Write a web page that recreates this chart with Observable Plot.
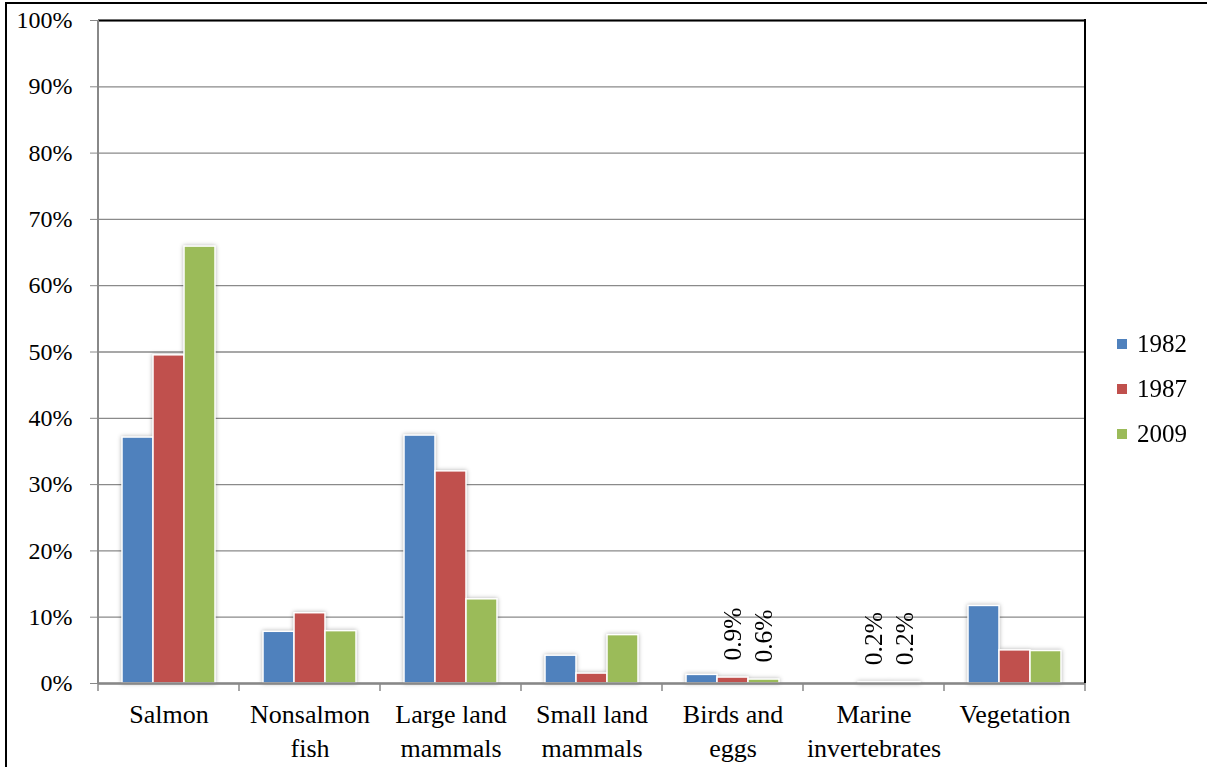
<!DOCTYPE html>
<html><head><meta charset="utf-8">
<script src="https://cdn.jsdelivr.net/npm/d3@7"></script>
<script src="https://cdn.jsdelivr.net/npm/@observablehq/plot@0.6"></script>
<style>
body{margin:0;background:#fff;}
#wrap{position:relative;width:1207px;height:767px;overflow:hidden;font-family:"Liberation Serif","Times New Roman",serif;}
#border{position:absolute;left:5px;top:2px;right:-10px;bottom:-10px;border-left:2px solid #000;border-top:2px solid #000;pointer-events:none;}
#chart{position:absolute;left:0;top:0;}
#legend{position:absolute;left:1117px;top:321px;}
.item{display:flex;align-items:center;height:45px;font-size:25px;color:#000;}
.sw{width:10px;height:10px;margin-right:10px;}
</style></head><body><div id="wrap"><div id="chart"></div><div id="border"></div><div id="legend"></div></div>
<script>
const categories = ["Salmon", "Nonsalmon fish", "Large land mammals", "Small land mammals", "Birds and eggs", "Marine invertebrates", "Vegetation"];
const categoryLabels = ["Salmon", "Nonsalmon\nfish", "Large land\nmammals", "Small land\nmammals", "Birds and\neggs", "Marine\ninvertebrates", "Vegetation"];
const years = ["1982", "1987", "2009"];
const share1982 = [37.1, 7.8, 37.4, 4.2, 1.3, 0, 11.7];
const share1987 = [49.5, 10.6, 32.0, 1.5, 0.9, 0.2, 5.0];
const share2009 = [65.9, 7.9, 12.7, 7.3, 0.6, 0.2, 4.9];
const colors = ["#4F81BD", "#C0504D", "#9BBB59"];
const yTicks = [0, 10, 20, 30, 40, 50, 60, 70, 80, 90, 100];
const dataLabels = [
  {category: "Birds and eggs", year: "1987", value: 0.9},
  {category: "Birds and eggs", year: "2009", value: 0.6},
  {category: "Marine invertebrates", year: "1987", value: 0.2},
  {category: "Marine invertebrates", year: "2009", value: 0.2}
];

const series = [share1982, share1987, share2009];
const rows = categories.flatMap((c, i) => years.map((yr, j) => ({category: c, year: yr, value: series[j][i]})));

const plot = Plot.plot({
  width: 1207, height: 767,
  marginLeft: 96, marginRight: 120, marginTop: 20, marginBottom: 84,
  style: {fontFamily: "'Liberation Serif', 'Times New Roman', serif", background: "transparent", color: "black", overflow: "visible"},
  fx: {domain: categories, padding: 0, label: null},
  x: {domain: years, paddingInner: 0, paddingOuter: 0.77, axis: null},
  y: {domain: [0, 100], label: null},
  color: {domain: years, range: colors},
  marks: [
    Plot.gridY(yTicks, {stroke: "#8a8a8a", strokeOpacity: 1, strokeWidth: 1.3}),
    Plot.barY(rows, {fx: "category", x: "year", y: "value", fill: "year", stroke: "white", strokeWidth: 1.5}),
    Plot.ruleY([0], {stroke: "#888", strokeWidth: 2.5}),
    Plot.ruleY([100], {stroke: "black", strokeWidth: 2}),
    Plot.text(dataLabels, {fx: "category", x: "year", y: "value", text: d => d.value.toFixed(1) + "%", rotate: -90, textAnchor: "start", dy: -17, fontSize: 25.5, fill: "black"}),
    Plot.axisY(yTicks, {label: null, tickSize: 8, tickPadding: 18, tickFormat: d => d + "%", fontSize: 24, stroke: "#888", fill: "black"}),
    Plot.axisFx({anchor: "bottom", label: null, tickSize: 0, tickPadding: 15, fontSize: 26, lineHeight: 1.32, tickFormat: d => categoryLabels[categories.indexOf(d)], fill: "black"})
  ]
});
document.getElementById("chart").appendChild(plot);

// axis decorations derived from the plot's own scales
const svg = d3.select(plot);
const fx = plot.scale("fx"), y = plot.scale("y");
const y0 = y.apply(0), y1 = y.apply(100);
const bw = fx.bandwidth != null ? fx.bandwidth : (fx.range[1] - fx.range[0]) / categories.length;
const xs = categories.map(c => fx.apply(c)).concat([fx.apply(categories[categories.length - 1]) + bw]);
const g = svg.append("g");
g.selectAll("line.tk").data(xs).join("line").attr("class", "tk")
  .attr("x1", d => d).attr("x2", d => d).attr("y1", y0).attr("y2", y0 + 8)
  .attr("stroke", "#888").attr("stroke-width", 1.5);
g.append("line").attr("x1", xs[0]).attr("x2", xs[0]).attr("y1", y1).attr("y2", y0)
  .attr("stroke", "#888").attr("stroke-width", 2);
g.append("line").attr("x1", xs[xs.length - 1]).attr("x2", xs[xs.length - 1]).attr("y1", y1 - 1).attr("y2", y0)
  .attr("stroke", "black").attr("stroke-width", 2);
svg.selectAll('g[aria-label="bar"]').style("filter", "drop-shadow(0px 0px 2px rgba(0,0,0,0.3))");

// legend
const legend = d3.select("#legend");
years.forEach((yr, j) => {
  const it = legend.append("div").attr("class", "item");
  it.append("div").attr("class", "sw").style("background", colors[j]);
  it.append("span").text(yr);
});
</script>
</body></html>
